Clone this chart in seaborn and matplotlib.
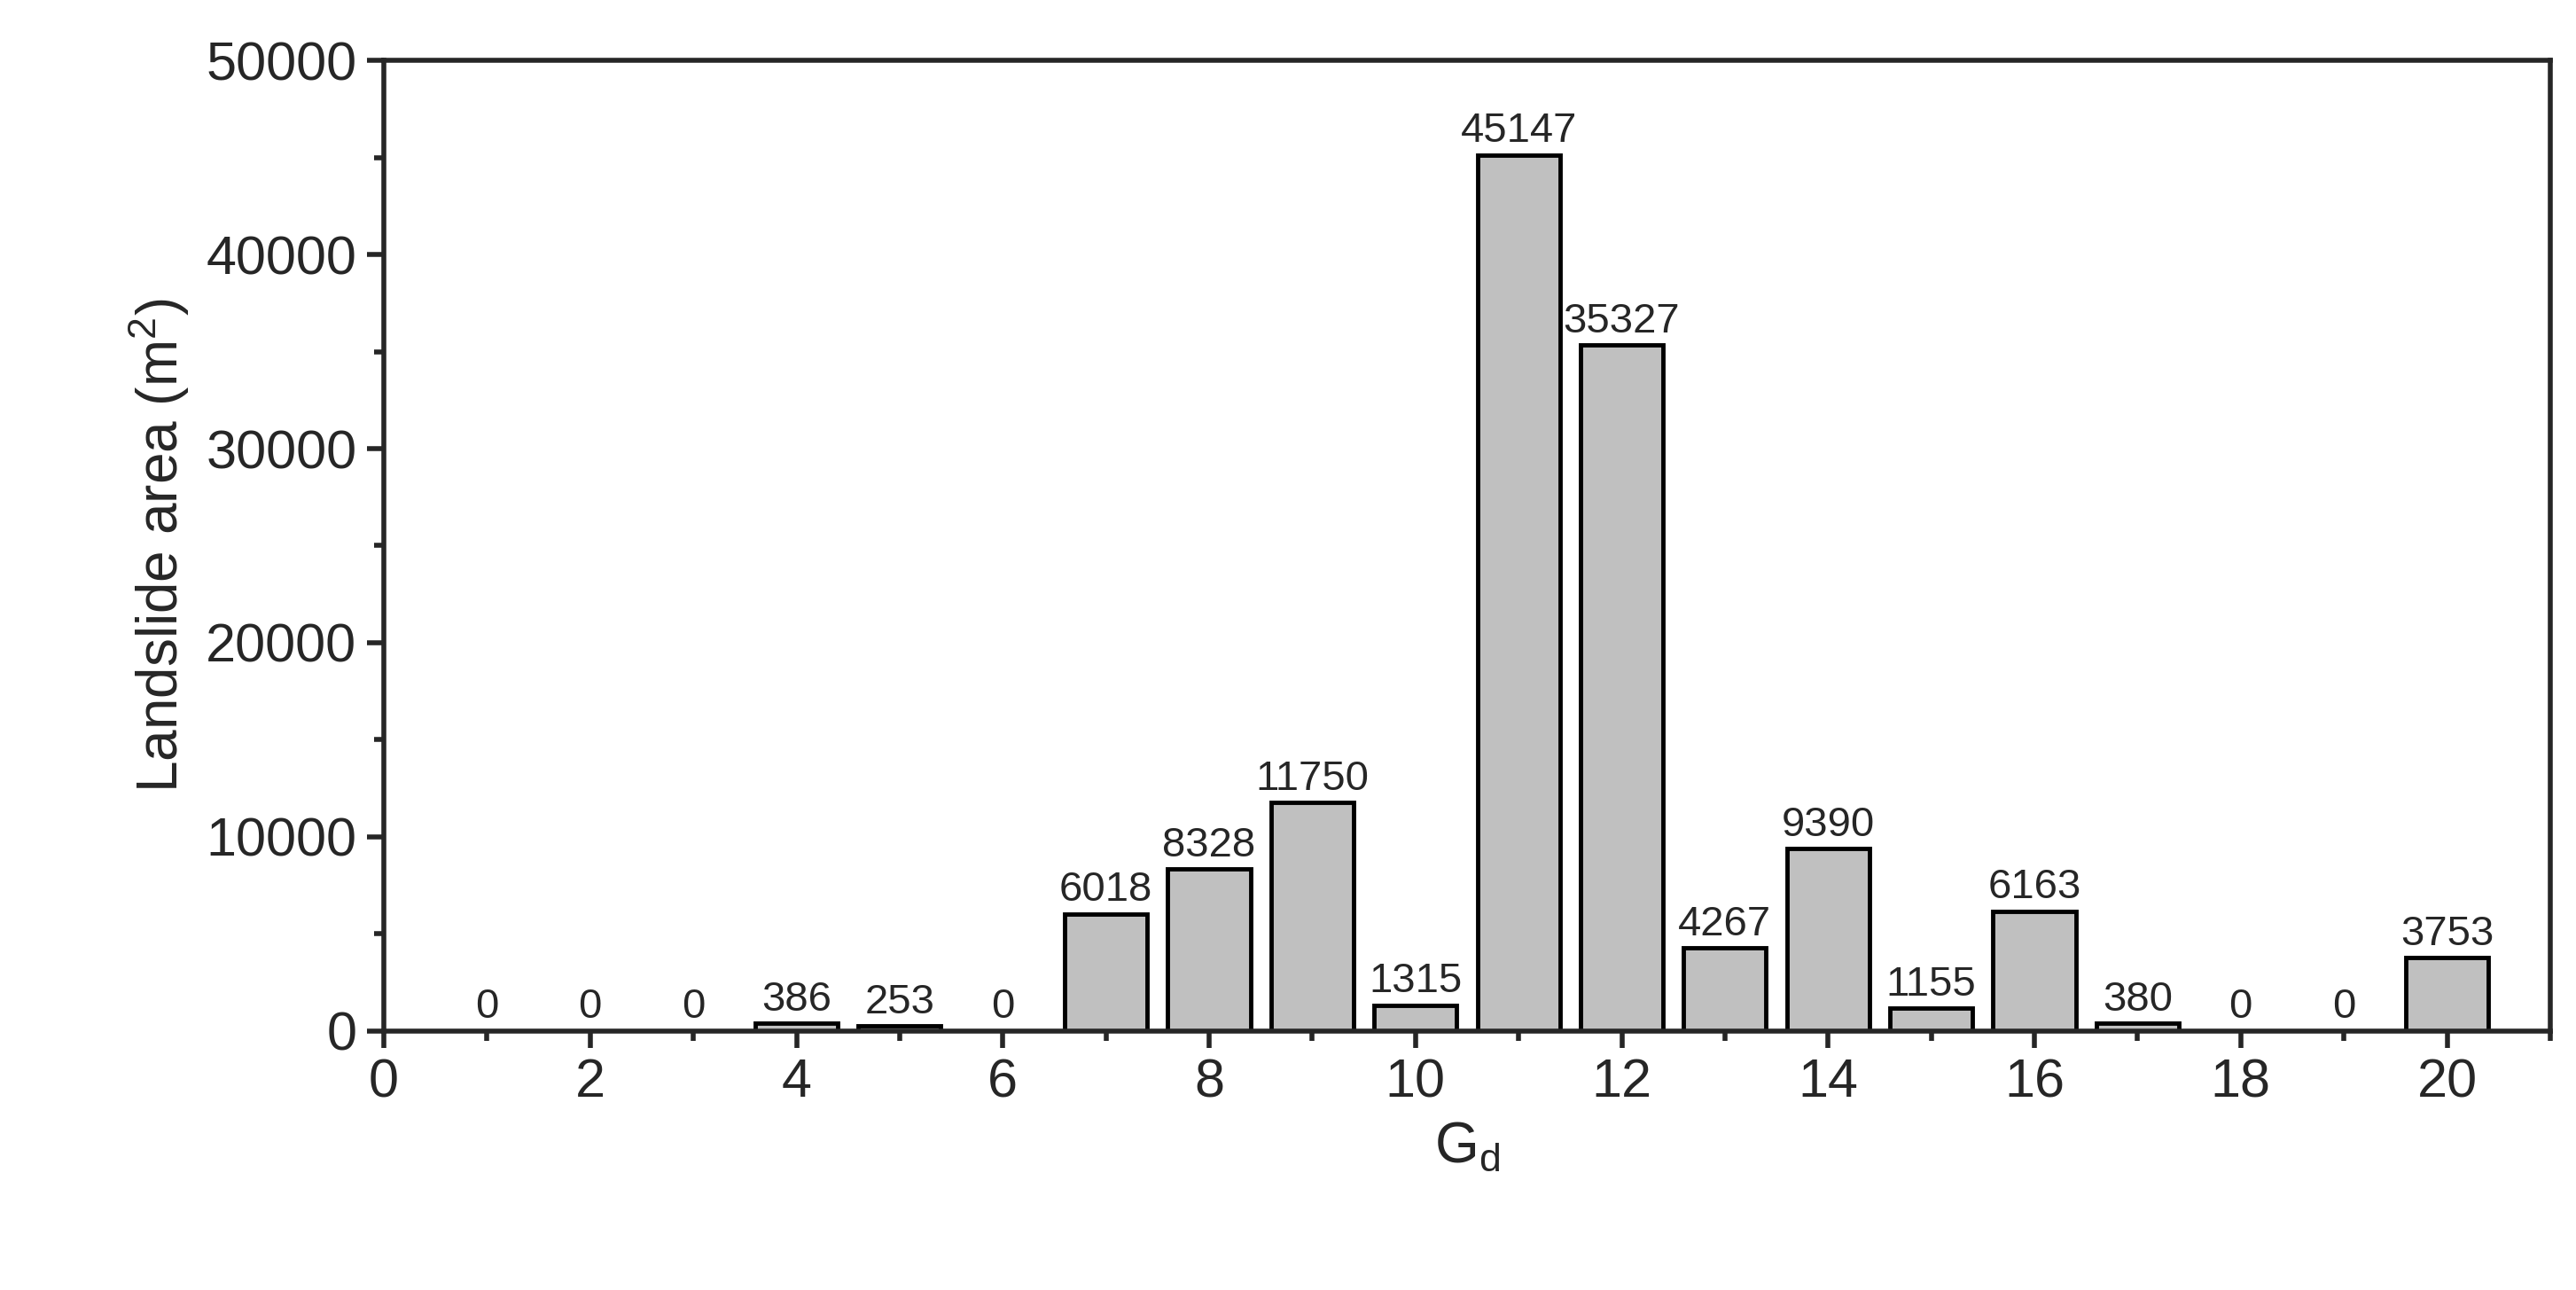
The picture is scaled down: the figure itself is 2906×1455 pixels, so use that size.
import numpy as np
import pandas as pd
import seaborn as sns
import matplotlib.pyplot as plt
from matplotlib.ticker import MultipleLocator

gd = list(range(1, 21))
area = [0, 0, 0, 386, 253, 0, 6018, 8328, 11750, 1315,
        45147, 35327, 4267, 9390, 1155, 6163, 380, 0, 0, 3753]
df = pd.DataFrame({"Gd": gd, "area": area})

sns.set_style("ticks")
plt.rcParams['font.family'] = ['Liberation Sans', 'DejaVu Sans']

fig = plt.figure(figsize=(29.06, 14.55), dpi=100)
ax = fig.add_axes([0.149, 0.201, 0.841, 0.752])

sns.barplot(data=df, x="Gd", y="area", native_scale=True, width=0.8,
            color="#C0C0C0", edgecolor="black", linewidth=3.5, ax=ax)

for x, v in zip(gd, area):
    ax.text(x, v + 200, str(v), ha="center", va="bottom", fontsize=34)

ax.set_xlim(0, 21)
ax.set_ylim(0, 50000)
ax.xaxis.set_major_locator(MultipleLocator(2))
ax.xaxis.set_minor_locator(MultipleLocator(1))
ax.yaxis.set_major_locator(MultipleLocator(10000))
ax.yaxis.set_minor_locator(MultipleLocator(5000))
ax.tick_params(which="major", length=14, width=4, labelsize=44, direction="out", pad=8)
ax.tick_params(which="minor", length=8, width=4, direction="out")
for s in ax.spines.values():
    s.set_visible(True)
    s.set_linewidth(4)
ax.set_xlabel("G$_\\mathregular{d}$", fontsize=46, labelpad=10)
ax.set_ylabel("Landslide area (m$^\\mathregular{2}$)", fontsize=46, labelpad=12)

fig.savefig("out.png", dpi=100)
